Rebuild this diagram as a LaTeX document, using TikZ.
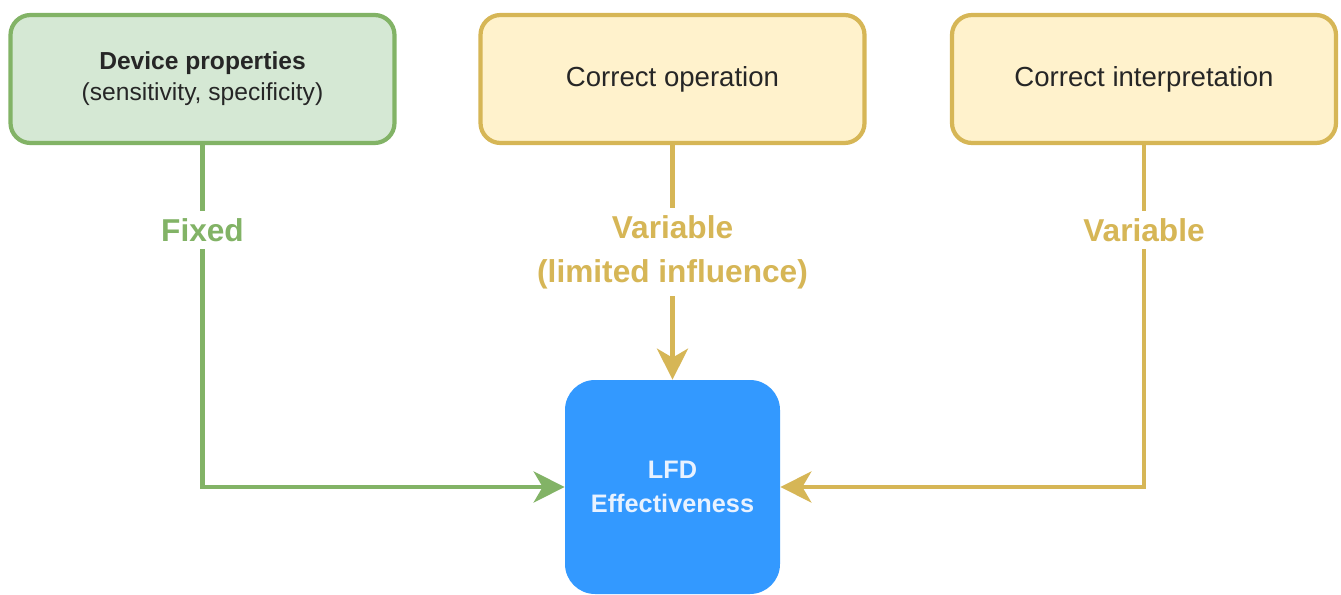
\documentclass[tikz,border=0pt]{standalone}
\usepackage{fontspec}
\setmainfont{Liberation Sans}
\usepackage{tikz}
\usetikzlibrary{arrows.meta, positioning, calc}

\definecolor{devgreen}{HTML}{82B366}
\definecolor{devgreenfill}{HTML}{D5E8D4}
\definecolor{opyellow}{HTML}{D6B656}
\definecolor{opyellowfill}{HTML}{FFF2CC}
\definecolor{lfdblue}{HTML}{3399FF}
\definecolor{lfdtext}{HTML}{E8F2FF}

\tikzset{
	topbox/.style={draw, rounded corners=0.4cm, line width=2.4pt, minimum width=7.68cm, minimum height=2.56cm, align=center, text=black!85},
	greenbox/.style={topbox, draw=devgreen, fill=devgreenfill, font=\fontsize{14}{17.6}\selectfont},
	yellowbox/.style={topbox, draw=opyellow, fill=opyellowfill, font=\fontsize{15.7}{19}\selectfont},
	lfdbox/.style={fill=lfdblue, rounded corners=0.6cm, minimum width=4.3cm, minimum height=4.28cm, align=center, text=lfdtext, font=\fontsize{14.4}{19.3}\selectfont\bfseries},
	flow/.style={line width=2.4pt, -{Stealth[length=0.62cm, width=0.62cm, inset=0.18cm]}},
	lbl/.style={fill=white, inner sep=4pt, align=center, font=\fontsize{18}{25}\selectfont\bfseries},
}

\begin{document}
\begin{tikzpicture}
			\useasboundingbox (0,0) rectangle (26.82,-11.9);

			% the three inputs along the top
			\node[greenbox] (dev) at (4.05,-1.58) {\textbf{Device properties}\\(sensitivity, specificity)};
			\node[yellowbox] (oper) at (13.45,-1.58) {Correct operation};
			\node[yellowbox] (interp) at (22.88,-1.58) {Correct interpretation};

			\node[lfdbox] (lfd) at (13.45,-9.74) {LFD\\Effectiveness};

			\draw[flow, devgreen] (dev.south) |- (lfd.west);
			\draw[flow, opyellow] (oper.south) -- (lfd.north);
			\draw[flow, opyellow] (interp.south) |- (lfd.east);

			% labels sit on top of the lines
			\node[lbl, text=devgreen] (fixed) at (4.05,-4.6) {Fixed};
			\node[lbl, text=opyellow] (limited) at (13.45,-5.04) {Variable\\(limited influence)};
			\node[lbl, text=opyellow] (var) at (22.88,-4.6) {Variable};
		\end{tikzpicture}
\end{document}
